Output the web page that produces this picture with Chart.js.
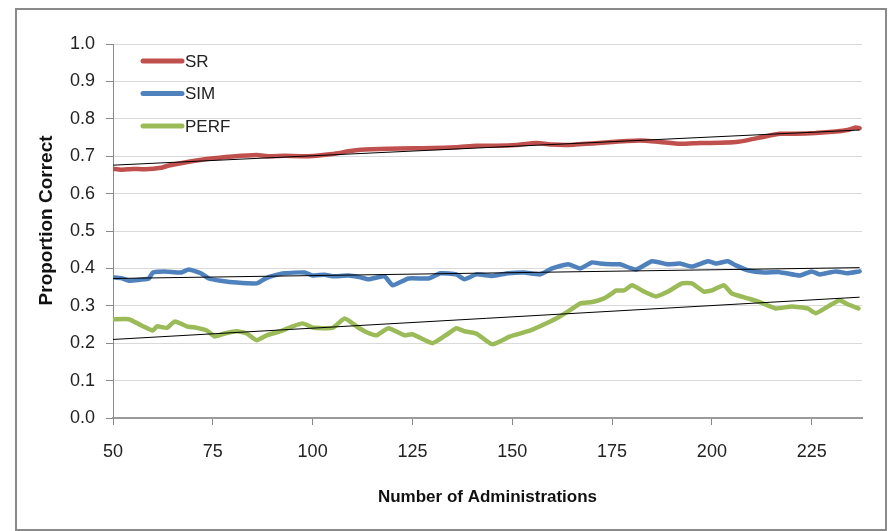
<!DOCTYPE html>
<html>
<head>
<meta charset="utf-8">
<script src="https://cdn.jsdelivr.net/npm/chart.js@4.4.1/dist/chart.umd.min.js"></script>
<style>
  html, body { margin: 0; padding: 0; background: #ffffff; }
  #wrap { position: relative; width: 888px; height: 531px; }
</style>
</head>
<body>
<div id="wrap"><canvas id="c" width="888" height="531"></canvas></div>
<script>
// ---- Data ----
const seriesNames = ["SR", "SIM", "PERF"];

const srX = [50, 52, 55, 58, 62, 64, 69, 74, 80, 86, 89, 93, 99, 105, 109, 112, 119, 125, 130, 136, 141, 146, 151, 156, 160, 164, 170, 175, 182, 187, 192, 197, 202, 206, 209, 213, 217, 221, 226, 231, 234, 236, 237];
const srY = [0.666, 0.664, 0.666, 0.665, 0.669, 0.675, 0.685, 0.693, 0.699, 0.703, 0.700, 0.701, 0.700, 0.706, 0.713, 0.717, 0.720, 0.721, 0.722, 0.724, 0.728, 0.728, 0.730, 0.735, 0.731, 0.730, 0.734, 0.738, 0.742, 0.738, 0.733, 0.735, 0.736, 0.738, 0.743, 0.752, 0.760, 0.760, 0.762, 0.766, 0.770, 0.777, 0.775];

const simX = [50, 52, 54, 57, 59, 60, 63, 67, 69, 72, 74, 77, 81, 86, 88, 90, 93, 98, 100, 103, 105, 109, 112, 114, 118, 120, 124, 129, 132, 136, 138, 141, 145, 149, 153, 157, 160, 164, 167, 170, 172, 175, 177, 181, 185, 189, 192, 195, 199, 201, 204, 206, 209, 213, 217, 222, 225, 227, 231, 234, 237];
const simY = [0.376, 0.374, 0.367, 0.370, 0.373, 0.389, 0.392, 0.389, 0.397, 0.387, 0.373, 0.367, 0.362, 0.360, 0.372, 0.380, 0.387, 0.389, 0.381, 0.383, 0.379, 0.381, 0.376, 0.371, 0.379, 0.355, 0.373, 0.373, 0.387, 0.384, 0.371, 0.384, 0.380, 0.387, 0.389, 0.384, 0.400, 0.411, 0.400, 0.416, 0.413, 0.411, 0.411, 0.397, 0.419, 0.411, 0.413, 0.405, 0.419, 0.413, 0.419, 0.408, 0.395, 0.389, 0.390, 0.381, 0.392, 0.384, 0.392, 0.387, 0.392];

const perfX = [50, 54, 57, 60, 61, 63.5, 65.5, 68.5, 71, 73.5, 75.5, 78, 81, 83.5, 86, 88.5, 92, 95, 97.5, 100, 105, 108, 111, 113, 116, 119, 123, 125, 130, 134, 136, 138, 141, 145, 149.5, 154, 157.5, 161, 164, 167, 170, 173, 175, 176, 178, 180, 183, 186, 189, 192.5, 195, 198, 200, 203, 205, 209, 212, 216, 220, 224, 226, 229.5, 232, 234, 236.7];
const perfY = [0.264, 0.264, 0.248, 0.234, 0.245, 0.241, 0.258, 0.245, 0.241, 0.234, 0.218, 0.226, 0.232, 0.226, 0.208, 0.221, 0.232, 0.245, 0.253, 0.242, 0.241, 0.266, 0.245, 0.232, 0.221, 0.240, 0.221, 0.224, 0.200, 0.226, 0.240, 0.232, 0.226, 0.197, 0.218, 0.232, 0.248, 0.266, 0.285, 0.306, 0.310, 0.320, 0.333, 0.341, 0.341, 0.355, 0.338, 0.325, 0.338, 0.360, 0.360, 0.338, 0.341, 0.355, 0.333, 0.320, 0.310, 0.293, 0.298, 0.293, 0.280, 0.301, 0.315, 0.304, 0.293];

// Linear trend lines (end points)
const trendX = [50, 237];
const srTrend = [0.676, 0.770];
const simTrend = [0.373, 0.402];
const perfTrend = [0.210, 0.323];

// Tick labels
const xTicks = [50, 75, 100, 125, 150, 175, 200, 225];
const yTicks = [0.0, 0.1, 0.2, 0.3, 0.4, 0.5, 0.6, 0.7, 0.8, 0.9, 1.0];

const xTitle = "Number of Administrations";
const yTitle = "Proportion Correct";

// ---- Styles ----
const colors = ["#C0504D", "#4F81BD", "#9BBB59"];
const FONT = "'Liberation Sans', Arial, sans-serif";

function pts(xs, ys) { return xs.map((x, i) => ({ x: x, y: ys[i] })); }

const seriesData = [pts(srX, srY), pts(simX, simY), pts(perfX, perfY)];
const trendData = [pts(trendX, srTrend), pts(trendX, simTrend), pts(trendX, perfTrend)];

const datasets = [];
seriesNames.forEach((name, i) => {
  datasets.push({
    label: name,
    data: seriesData[i],
    borderColor: colors[i],
    backgroundColor: colors[i],
    borderWidth: 4.5,
    pointRadius: 0,
    tension: 0.15,
    borderJoinStyle: 'round',
    borderCapStyle: 'round',
    order: 2
  });
});
seriesNames.forEach((name, i) => {
  datasets.push({
    label: name + " trend",
    data: trendData[i],
    borderColor: "#000000",
    borderWidth: 1,
    pointRadius: 0,
    tension: 0,
    order: 1
  });
});

// Frame around the whole chart
const framePlugin = {
  id: 'frame',
  afterDraw(chart) {
    const ctx = chart.ctx;
    ctx.save();
    ctx.strokeStyle = '#8a8a8a';
    ctx.lineWidth = 2;
    ctx.strokeRect(16, 9, 870, 521);
    ctx.restore();
  }
};

// Legend drawn inside the plot area (top-left)
const insideLegend = {
  id: 'insideLegend',
  afterDatasetsDraw(chart) {
    const ctx = chart.ctx;
    const a = chart.chartArea;
    ctx.save();
    seriesNames.forEach((name, i) => {
      const y = a.top + 17 + i * 32.5;
      const x0 = a.left + 30;
      ctx.strokeStyle = colors[i];
      ctx.lineWidth = 5;
      ctx.lineCap = 'round';
      ctx.beginPath();
      ctx.moveTo(x0, y);
      ctx.lineTo(x0 + 39, y);
      ctx.stroke();
      ctx.fillStyle = '#222222';
      ctx.font = "17px " + FONT;
      ctx.textBaseline = 'middle';
      ctx.textAlign = 'left';
      ctx.fillText(name, x0 + 42, y + 1);
    });
    ctx.restore();
  }
};

new Chart(document.getElementById('c'), {
  type: 'line',
  data: { datasets: datasets },
  options: {
    responsive: false,
    animation: false,
    events: [],
    layout: { padding: { top: 44, right: 26, bottom: 0, left: 0 } },
    plugins: {
      legend: { display: false },
      tooltip: { enabled: false },
      title: { display: false }
    },
    scales: {
      x: {
        type: 'linear',
        min: 50,
        max: 237.6,
        afterFit(scale) { scale.height = 113; },
        afterBuildTicks(scale) { scale.ticks = xTicks.map(v => ({ value: v })); },
        ticks: {
          color: '#222222',
          font: { family: FONT, size: 18 },
          padding: 16,
          maxRotation: 0,
          autoSkip: false,
          callback: (v) => String(v)
        },
        grid: {
          drawOnChartArea: false,
          drawTicks: true,
          tickLength: 7,
          tickColor: '#888888'
        },
        border: { color: '#9a9a9a', width: 2 },
        title: {
          display: true,
          text: xTitle,
          color: '#111111',
          font: { family: FONT, size: 17, weight: 'bold' },
          padding: { top: 0, bottom: 23 }
        }
      },
      y: {
        type: 'linear',
        min: 0,
        max: 1,
        afterFit(scale) { scale.width = 113; },
        afterBuildTicks(scale) { scale.ticks = yTicks.map(v => ({ value: v })); },
        ticks: {
          color: '#222222',
          font: { family: FONT, size: 18 },
          padding: 11,
          callback: (v) => Number(v).toFixed(1)
        },
        grid: {
          color: '#d9d9d9',
          lineWidth: 1,
          drawTicks: true,
          tickLength: 7,
          tickColor: '#888888'
        },
        border: { color: '#8a8a8a', width: 1 },
        title: {
          display: true,
          text: "\u00A0\u00A0\u00A0\u00A0" + yTitle,
          color: '#111111',
          font: { family: FONT, size: 19, weight: 'bold' },
          padding: { top: 35, bottom: 0 }
        }
      }
    }
  },
  plugins: [framePlugin, insideLegend]
});
</script>
</body>
</html>
